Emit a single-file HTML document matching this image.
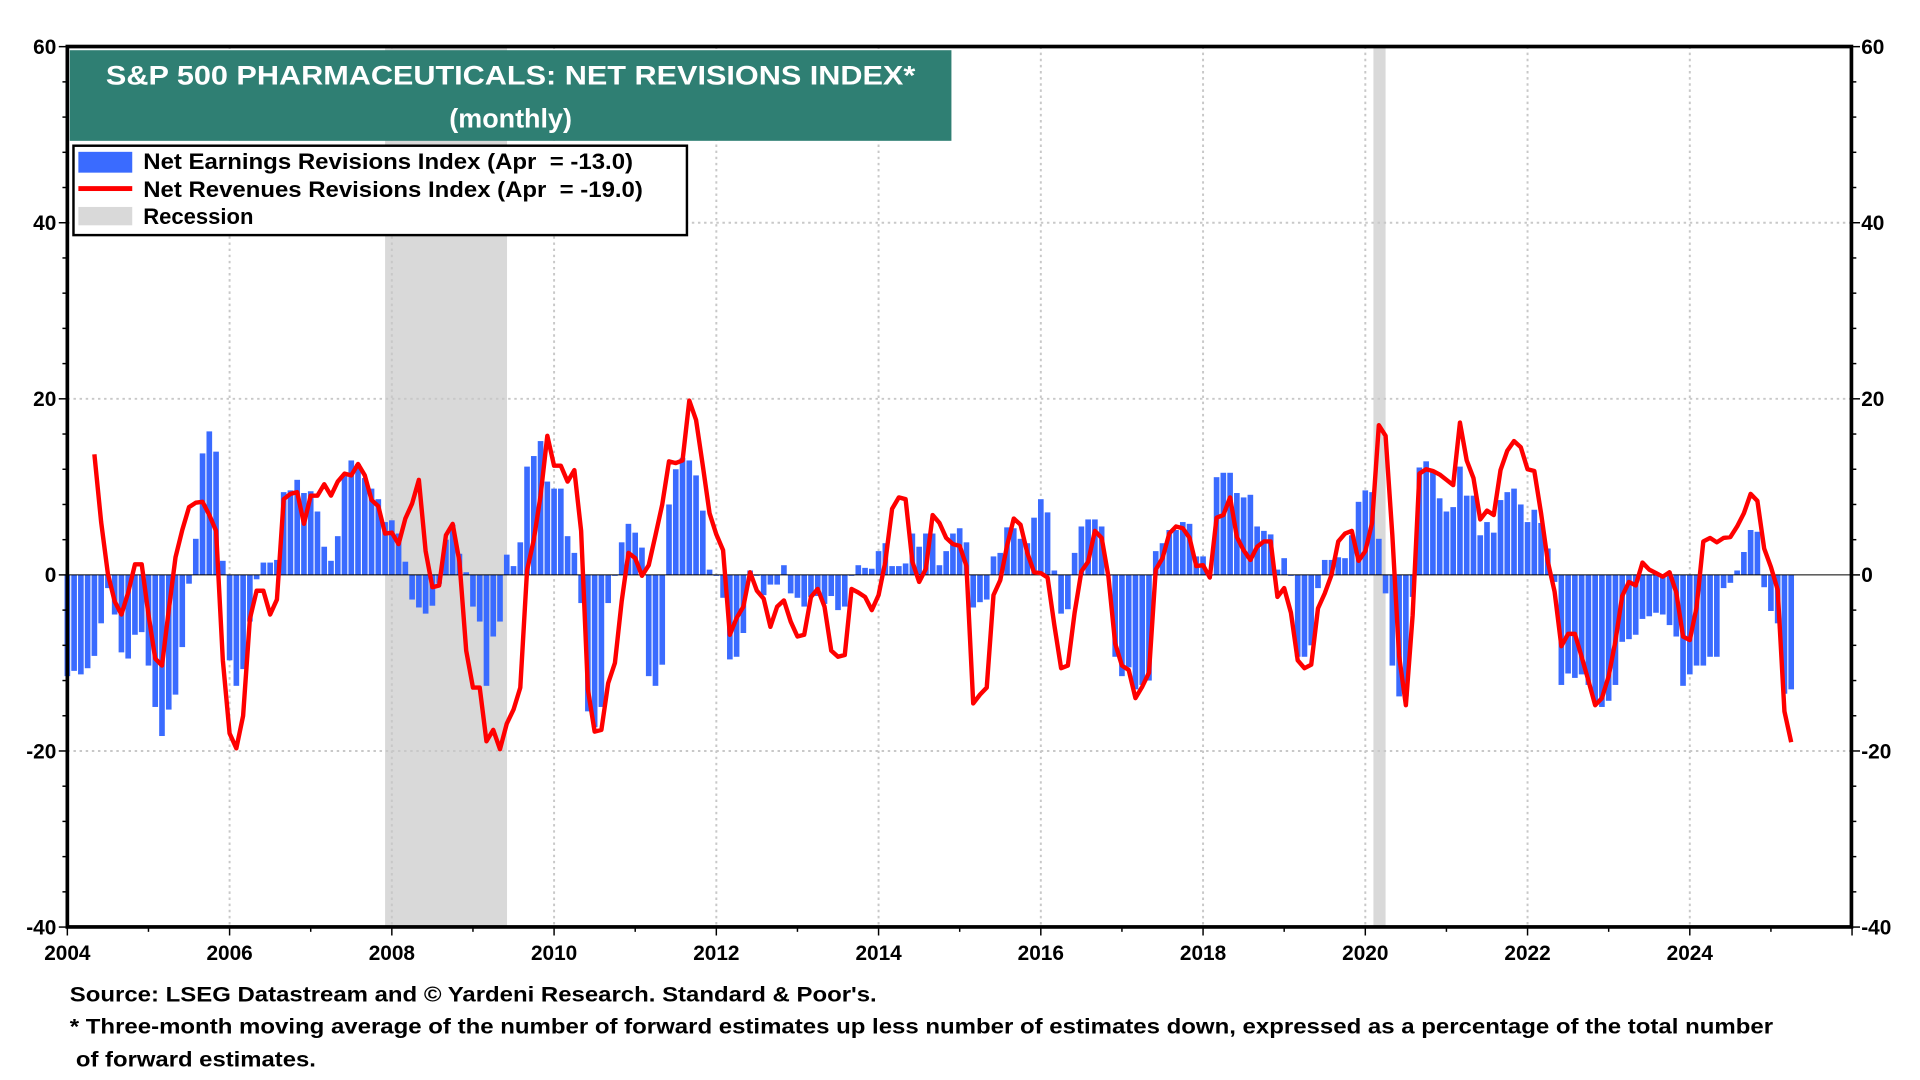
<!DOCTYPE html>
<html><head><meta charset="utf-8"><style>
html,body{margin:0;padding:0;background:#fff;}
svg{display:block;font-family:"Liberation Sans",Arial,sans-serif;font-weight:bold;}
</style></head><body>
<svg id="chart" width="1920" height="1080" viewBox="0 0 1568 882" preserveAspectRatio="none" xmlns="http://www.w3.org/2000/svg">
<g id="bg"></g>
<g id="grid"></g>
<g id="bars"></g>
<line x1="55" x2="1512" y1="469.5" y2="469.5" stroke="#000" stroke-width="0.8"/>
<g id="line"></g>
<g id="axes"></g>
<rect x="55" y="38" width="1457" height="719" fill="none" stroke="#000" stroke-width="3"/>
<g>
<rect x="57" y="41" width="720" height="74" fill="#2f7f73"/>
<text x="417" y="69" fill="#fff" font-size="22" text-anchor="middle" textLength="661" lengthAdjust="spacingAndGlyphs">S&amp;P 500 PHARMACEUTICALS: NET REVISIONS INDEX*</text>
<text x="417" y="104" fill="#fff" font-size="22" text-anchor="middle">(monthly)</text>
</g>
<g>
<rect x="60" y="119" width="501" height="73" fill="#fff" stroke="#000" stroke-width="2"/>
<rect x="64" y="124" width="44" height="17" fill="#3a6bff"/>
<text x="117" y="138" font-size="18" xml:space="preserve" textLength="400" lengthAdjust="spacingAndGlyphs">Net Earnings Revisions Index (Apr  = -13.0)</text>
<rect x="64" y="152" width="44" height="4" fill="#ff0000"/>
<text x="117" y="161" font-size="18" xml:space="preserve" textLength="408" lengthAdjust="spacingAndGlyphs">Net Revenues Revisions Index (Apr  = -19.0)</text>
<rect x="64" y="169" width="44" height="15" fill="#d9d9d9"/>
<text x="117" y="183" font-size="18">Recession</text>
</g>
<text x="57" y="818" font-size="17.5" textLength="659" lengthAdjust="spacingAndGlyphs">Source: LSEG Datastream and © Yardeni Research. Standard &amp; Poor's.</text>
<text x="57" y="844" font-size="17.5" textLength="1391" lengthAdjust="spacingAndGlyphs">* Three-month moving average of the number of forward estimates up less number of estimates down, expressed as a percentage of the total number</text>
<text x="62" y="871" font-size="17.5" textLength="196" lengthAdjust="spacingAndGlyphs">of forward estimates.</text>
</svg>
<script>
const yTicks = [60, 40, 20, 0, -20, -40];
const xYears = [2004, 2006, 2008, 2010, 2012, 2014, 2016, 2018, 2020, 2022, 2024];
const recessions = [[2007.917, 2009.42], [2020.1, 2020.25]];
const startYear = 2004;
const earnings = [
-11.5,-10.9,-11.3,-10.6,-9.2,-5.5,-1.5,-4.5,-8.8,-9.5,-6.8,-6.5,
-10.3,-15,-18.3,-15.3,-13.6,-8.2,-1,4.1,13.8,16.3,14,1.6,
-9.7,-12.6,-10.7,-5.3,-0.5,1.4,1.4,1.7,9.4,9.6,10.8,9.3,
9.5,7.2,3.2,1.6,4.4,11.3,13,12.6,11,9.8,8.6,6,
6.2,4.7,1.5,-2.8,-3.7,-4.4,-3.5,-1,4,5.7,2.4,0.3,
-3.6,-5.3,-12.6,-7,-5.3,2.3,1,3.7,12.3,13.5,15.2,10.6,
9.8,9.8,4.4,2.5,-3.2,-15.5,-17.3,-15,-3.2,0,3.7,5.8,
4.8,3.1,-11.5,-12.6,-10.2,8,12,13.3,13,11.3,7.3,0.6,
0,-2.6,-9.6,-9.3,-6.6,0.5,0,-2.3,-1.1,-1.1,1.1,-2.1,
-2.6,-3.6,-2.5,-2.4,-3.3,-2.4,-4,-3.6,0,1.1,0.8,0.7,
2.7,3.6,1,1,1.3,4.7,3.2,4.7,4.7,1.1,2.7,4.7,
5.3,3.7,-3.7,-3.1,-2.8,2.1,2.5,5.4,5.3,4.1,3.6,6.5,
8.6,7.1,0.5,-4.4,-3.9,2.5,5.5,6.3,6.3,5.5,0,-9.3,
-11.5,-10.5,-13,-12.5,-12,2.7,3.6,5.1,5.1,6,5.8,2.1,
2.1,0,11.1,11.6,11.6,9.3,8.8,9.1,5.5,5,4.6,0.6,
1.9,0,-9.3,-9.3,-8,-1.5,1.7,1.7,2,1.9,4.5,8.3,
9.6,9.4,4.1,-2.1,-10.3,-13.8,-13.8,-2.5,12.2,12.9,11.7,8.7,
7.2,7.7,12.3,9,9,4.5,6,4.8,8.5,9.4,9.8,8,
6,7.4,5.9,3,-0.8,-12.5,-11.2,-11.7,-11.3,-12.5,-14.4,-15,
-14.3,-12.5,-7.6,-7.3,-6.8,-5,-4.7,-4.3,-4.5,-5.7,-7,-12.6,
-11.3,-10.3,-10.3,-9.3,-9.3,-1.5,-0.9,0.5,2.6,5.1,4.9,-1.4,
-4.1,-5.5,-13.5,-13
];
const revStart = 4;
const revenues = [
13.7,6,0.1,-3,-4.5,-2,1.2,1.2,
-4.5,-9.5,-10.3,-4,2,5.1,7.7,8.2,8.3,6.8,5,-9.7,
-18,-19.7,-16,-5,-1.8,-1.8,-4.5,-2.8,8.6,9.2,9.4,5.8,
9,9,10.3,9,10.6,11.5,11.3,12.6,11.3,8.5,7.8,4.7,
4.8,3.5,6.4,8.1,10.8,2.7,-1.4,-1.2,4.5,5.8,1.5,-8.6,
-12.8,-12.8,-18.9,-17.6,-19.8,-16.9,-15.3,-12.8,0.5,4,9,15.8,
12.4,12.4,10.6,11.9,5,-13,-17.8,-17.6,-12.3,-10,-3,2.5,
1.9,-0.1,1.1,4.5,8,12.9,12.7,13,19.8,17.6,12.4,7,
4.6,2.8,-6.8,-4.9,-3.6,0.3,-1.8,-2.7,-5.9,-3.6,-2.9,-5.3,
-7,-6.8,-2.5,-1.6,-3.6,-8.6,-9.3,-9.1,-1.6,-2,-2.5,-4,
-2.3,1.5,7.5,8.8,8.6,1.5,-0.8,0.7,6.8,5.9,4.2,3.5,
3.3,1,-14.6,-13.6,-12.8,-2.3,-0.6,3.3,6.4,5.7,2.5,0.3,
0.2,-0.3,-5.7,-10.6,-10.3,-4.3,0.4,1.5,5,4.2,-0.2,-7.8,
-10.3,-10.8,-14,-12.7,-11.1,0.6,1.9,4.7,5.5,5.3,4.2,1,
1.1,-0.3,6.5,6.8,8.8,4.3,2.8,1.7,3.2,3.8,3.8,-2.5,
-1.5,-4.3,-9.7,-10.6,-10.2,-3.8,-2.1,0,3.8,4.7,5,1.6,
2.7,5.9,17,15.8,4.5,-9.2,-14.8,-4.6,11.5,12,11.8,11.4,
10.8,10.2,17.3,13,11,6.3,7.3,6.8,11.9,14.1,15.2,14.5,
12,11.8,7,1.5,-1.9,-8.1,-6.7,-6.7,-9.3,-12,-14.8,-14,
-11.5,-7.5,-2.4,-0.8,-1.2,1.4,0.6,0.2,-0.2,0.3,-2,-7,
-7.4,-3.7,3.8,4.2,3.7,4.2,4.3,5.5,7,9.2,8.4,3,
0.9,-1.7,-15.5,-19
];
const NS = "http://www.w3.org/2000/svg";
const X0 = 55, X1 = 1512.5, Y0 = 469.5, PXU = 7.19;
function xYear(y){ return X0 + (y - 2004) * (X1 - X0) / 22; }
function xMonth(m){ return xYear(startYear + m / 12); }
function yVal(v){ return Y0 - v * PXU; }
function mk(tag, attrs, parent){ const e = document.createElementNS(NS, tag); for (const k in attrs) e.setAttribute(k, attrs[k]); parent.appendChild(e); return e; }
const bg = document.getElementById('bg'), grid = document.getElementById('grid'), bars = document.getElementById('bars'), lineG = document.getElementById('line'), axes = document.getElementById('axes');
recessions.forEach(r => {
  const el = mk('rect', {x: xYear(r[0]), y: 38, width: xYear(r[1]) - xYear(r[0]), height: 719, fill: '#d9d9d9'}, bg);
  
  
});
yTicks.forEach(t => {
  if (t !== 60 && t !== -40 && t !== 0) {
    const g = mk('line', {x1: X0, x2: 1512, y1: yVal(t), y2: yVal(t), stroke: '#c8c8c8', 'stroke-width': 1.6, 'stroke-dasharray': '2 3'}, grid);
    
    
  }
  [[30, 'end', X0 - 9], [1530, 'start', 1520]].forEach((s, i) => {
    const tx = mk('text', {x: s[2], y: yVal(t) + 6, 'font-size': 17, 'text-anchor': s[1]}, axes);
    tx.textContent = t;
    
    
  });
});
for (let v = -40; v <= 60; v += 4) {
  const len = (v % 20 === 0) ? 7 : 4;
  mk('line', {x1: X0 - len, x2: X0, y1: yVal(v), y2: yVal(v), stroke: '#000', 'stroke-width': 1.2}, axes);
  mk('line', {x1: 1512, x2: 1512 + len, y1: yVal(v), y2: yVal(v), stroke: '#000', 'stroke-width': 1.2}, axes);
}
xYears.forEach(yr => {
  if (yr !== 2004) {
    const g = mk('line', {x1: xYear(yr), x2: xYear(yr), y1: 38, y2: 757, stroke: '#c8c8c8', 'stroke-width': 1.6, 'stroke-dasharray': '2 3'}, grid);
    
    
  }
  const tx = mk('text', {x: xYear(yr), y: 784, 'font-size': 17, 'text-anchor': 'middle'}, axes);
  tx.textContent = yr;
  
  
});
for (let yr = 2004; yr <= 2026; yr++) {
  mk('line', {x1: xYear(yr), x2: xYear(yr), y1: 757, y2: 757 + (yr % 2 === 0 ? 7 : 4), stroke: '#000', 'stroke-width': 1.2}, axes);
}
earnings.forEach((v, i) => {
  const x = xMonth(i), y = yVal(v);
  const b = mk('rect', {x: x - 2.3, y: Math.min(y, Y0), width: 4.6, height: Math.max(Math.abs(y - Y0), 0.8), fill: '#3a6bff'}, bars);
  
  
});
const pts = revenues.map((v, i) => xMonth(i + revStart).toFixed(2) + ',' + yVal(v).toFixed(2)).join(' ');
const pl = mk('polyline', {points: pts, fill: 'none', stroke: '#ff0000', 'stroke-width': 3.6, 'stroke-linejoin': 'round'}, lineG);


</script>
</body></html>
